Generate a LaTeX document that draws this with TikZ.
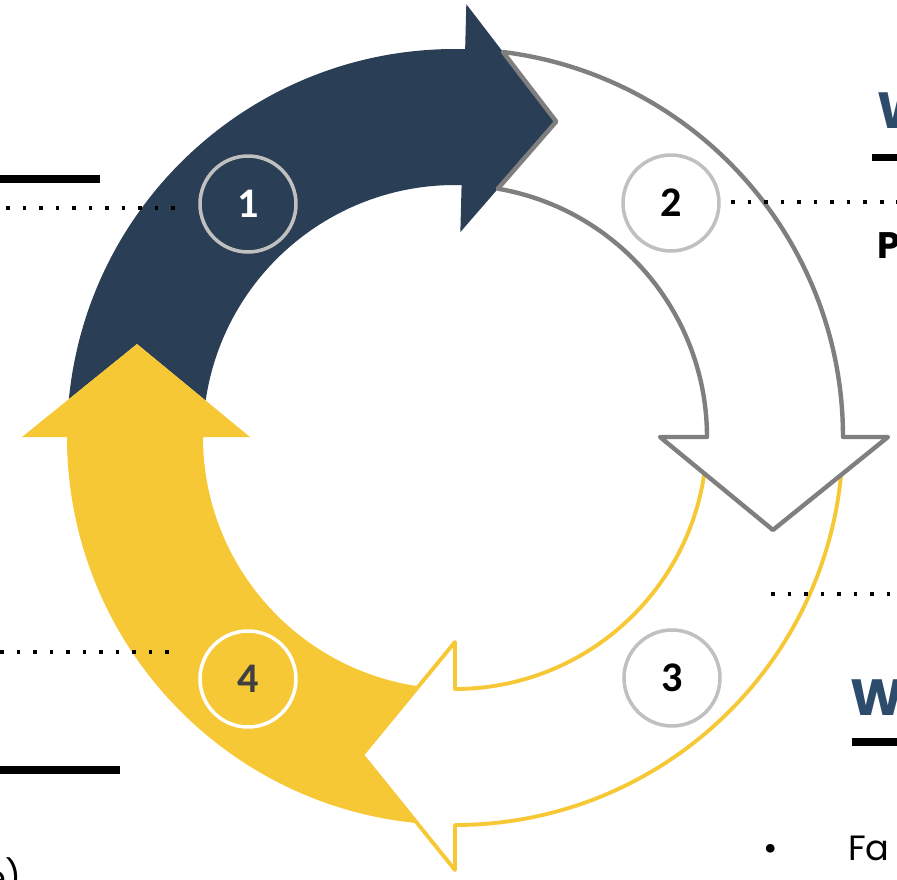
\documentclass[tikz,border=0pt]{standalone}
\usepackage{fontspec}
\setmainfont{Poppins}
\newfontfamily\numfont{Carlito}
\definecolor{navy}{HTML}{2A3E55}
\definecolor{gold}{HTML}{F6C836}
\definecolor{rimgray}{HTML}{7F7F7F}
\definecolor{ringgray}{HTML}{C0C0C0}
\definecolor{headblue}{HTML}{2D4B6A}
\definecolor{numgray}{HTML}{404040}
\begin{document}
\begin{tikzpicture}[x=0.02cm, y=0.02cm,
		numcircle/.style={draw, circle, line width=2pt, inner sep=0pt,
			minimum size=1.92cm, font=\numfont\bfseries\fontsize{24}{24}\selectfont},
		dotline/.style={line width=2.2pt, dash pattern=on 2.2pt off 7.2pt},
		bar/.style={line width=4.5pt},
		heading/.style={anchor=base west, text=headblue, font=\bfseries\fontsize{29}{29}\selectfont},
	]
	\useasboundingbox (-455,-443) rectangle (442,437);
	\clip (-455,-443) rectangle (442,437);

	\fill[navy] (174.4:388) arc[start angle=174.4, end angle=88.5, radius=388]
		-- (88.5:433) -- (72.2:331.3) -- (88.5:205) -- (88.5:252)
		arc[start angle=88.5, end angle=171.7, radius=252] -- (163.7:331.3) -- cycle;
	\fill[gold] (264.4:388) arc[start angle=264.4, end angle=180, radius=388]
		-- (180:433) -- (163.7:331.3) -- (180:205) -- (180:252)
		arc[start angle=180, end angle=261.7, radius=252] -- (253.7:331.3) -- cycle;
	\filldraw[fill=white, draw=gold, line width=2.2pt, line join=round]
		(-5.6:388) arc[start angle=-5.6, end angle=-90, radius=388]
		-- (-90:433) -- (-106.3:331.3) -- (-90:205) -- (-90:252)
		arc[start angle=-90, end angle=-8.3, radius=252] -- (-16.3:331.3) -- cycle;
	\filldraw[fill=white, draw=rimgray, line width=2.5pt, line join=round]
		(82.9:388) arc[start angle=82.9, end angle=0, radius=388]
		-- (0:433) -- (-16.3:331.3) -- (0:205) -- (0:252)
		arc[start angle=0, end angle=80.2, radius=252] -- (72.2:331.3) -- cycle;

	\node[numcircle, draw=ringgray, text=white] (n1) at (-207,233) {1};
	\node[numcircle, draw=ringgray, fill=white] (n2) at (216,234) {2};
	\node[numcircle, draw=ringgray, fill=white] (n3) at (217,-241) {3};
	\node[numcircle, draw=white, fill=gold, text=numgray] (n4) at (-207,-242) {4};

	\coordinate (d1a) at (-449,229);
	\coordinate (d1b) at (-280,229);
	\coordinate (d2a) at (276,235);
	\coordinate (d2b) at (442,235);
	\coordinate (d3a) at (316,-157);
	\coordinate (d3b) at (442,-157);
	\coordinate (d4a) at (-455,-215);
	\coordinate (d4b) at (-285,-215);
	\draw[dotline] (d1a) -- (d1b);
	\draw[dotline] (d2a) -- (d2b);
	\draw[dotline] (d3a) -- (d3b);
	\draw[dotline] (d4a) -- (d4b);

	\coordinate (b1a) at (-455,258);
	\coordinate (b1b) at (-355,258);
	\coordinate (b2a) at (-455,-333);
	\coordinate (b2b) at (-335,-333);
	\coordinate (b3a) at (417,279.5);
	\coordinate (b3b) at (442,279.5);
	\coordinate (b4a) at (397,-305);
	\coordinate (b4b) at (442,-305);
	\draw[bar] (b1a) -- (b1b);
	\draw[bar] (b2a) -- (b2b);
	\draw[bar] (b3a) -- (b3b);
	\draw[bar] (b4a) -- (b4b);

	\node[heading] (h1) at (416,309) {W};
	\node[anchor=base west, font=\bfseries\fontsize{21}{21}\selectfont] (p1) at (416,179) {P};
	\node[heading] (h2) at (389,-278) {W};
	\node[anchor=base, font=\fontsize{20}{20}\selectfont] (bul) at (316,-423) {•};
	\node[anchor=base west, font=\fontsize{20}{20}\selectfont] (fa) at (387,-423) {Fa};
	\node[anchor=base east, font=\fontsize{20}{20}\selectfont] (ep) at (-427,-453) {e)};
\end{tikzpicture}
\end{document}
